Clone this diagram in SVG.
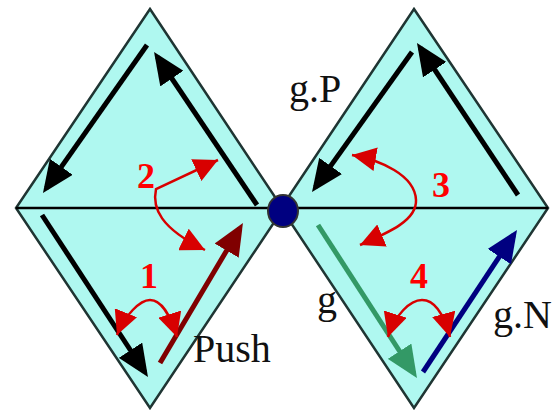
<svg xmlns="http://www.w3.org/2000/svg" width="553" height="411" viewBox="0 0 553 411">
<defs>
<style>
.dia{fill:#aff8f0;stroke:#1f3533;stroke-width:2.5;stroke-linejoin:miter}
.vec{fill:none;stroke-width:5;stroke-linecap:butt}
.turn{fill:none;stroke:#d80000;stroke-width:2.5}
.lbl{font-family:"Liberation Serif","Times New Roman",serif;font-size:40px;fill:#111}
.num{font-family:"Liberation Serif","Times New Roman",serif;font-size:36px;font-weight:bold;fill:#ff0000}
</style>
<marker id="hBlack" markerUnits="userSpaceOnUse" viewBox="0 0 32 28" markerWidth="32" markerHeight="28" refX="26" refY="14" orient="auto"><path d="M0,0 L32,14 L0,28 z" fill="#000"/></marker>
<marker id="hRed" markerUnits="userSpaceOnUse" viewBox="0 0 32 28" markerWidth="32" markerHeight="28" refX="26" refY="14" orient="auto"><path d="M0,0 L32,14 L0,28 z" fill="#800000"/></marker>
<marker id="hGreen" markerUnits="userSpaceOnUse" viewBox="0 0 32 28" markerWidth="32" markerHeight="28" refX="26" refY="14" orient="auto"><path d="M0,0 L32,14 L0,28 z" fill="#339966"/></marker>
<marker id="hNavy" markerUnits="userSpaceOnUse" viewBox="0 0 32 28" markerWidth="32" markerHeight="28" refX="26" refY="14" orient="auto"><path d="M0,0 L32,14 L0,28 z" fill="#000080"/></marker>
<marker id="hTurn" markerUnits="userSpaceOnUse" viewBox="0 0 24 24" markerWidth="24" markerHeight="24" refX="24" refY="12" orient="auto-start-reverse"><path d="M0,0 L24,12 L0,24 z" fill="#d80000"/></marker>
</defs>

<g id="diamond-left"><polygon class="dia" points="150,9 283,209 150,408 16,208"/></g>
<g id="diamond-right"><polygon class="dia" points="414,9 548,208 414,408 281,208"/></g>
<g id="axis"><line x1="16" y1="208" x2="548" y2="208" stroke="#000" stroke-width="2.5"/></g>

<g id="connectors">
<line class="vec" stroke="#000" x1="147" y1="45" x2="46.4" y2="188.1" marker-end="url(#hBlack)"/>
<line class="vec" stroke="#000" x1="257" y1="205" x2="157.4" y2="57" marker-end="url(#hBlack)"/>
<line class="vec" stroke="#000" x1="42" y1="215" x2="144.7" y2="372" marker-end="url(#hBlack)"/>
<line class="vec" stroke="#800000" x1="160" y1="363" x2="239.9" y2="228.2" marker-end="url(#hRed)"/>
<line class="vec" stroke="#000" x1="518" y1="195" x2="420.3" y2="48" marker-end="url(#hBlack)"/>
<line class="vec" stroke="#000" x1="412" y1="52" x2="315.5" y2="187.1" marker-end="url(#hBlack)"/>
<line class="vec" stroke="#339966" stroke-width="6" x1="318" y1="225" x2="413.7" y2="373" marker-end="url(#hGreen)"/>
<line class="vec" stroke="#000080" x1="423" y1="372" x2="513.7" y2="235" marker-end="url(#hNavy)"/>
<path class="turn" d="M218,160 L156,189 C152,208 160,228 205,250" marker-start="url(#hTurn)" marker-end="url(#hTurn)"/>
<path class="turn" d="M352,155 C380,160 415,175 416,200 C417,220 390,232 360,245" marker-start="url(#hTurn)" marker-end="url(#hTurn)"/>
<path class="turn" d="M117,335 C125,315 140,300 150,300 C162,300 170,315 177,337" marker-start="url(#hTurn)" marker-end="url(#hTurn)"/>
<path class="turn" d="M388,337 C395,315 410,300 422,300 C435,300 444,315 450,337" marker-start="url(#hTurn)" marker-end="url(#hTurn)"/>
</g>

<g id="joint"><ellipse cx="283" cy="211" rx="15" ry="16" fill="#000080" stroke="#333" stroke-width="2"/></g>

<g id="labels">
<text class="num" x="137" y="188">2</text>
<text class="num" x="432" y="197">3</text>
<text class="num" x="140" y="288">1</text>
<text class="num" x="410" y="288">4</text>
<text class="lbl" x="289" y="102">g.P</text>
<text class="lbl" x="193" y="362">Push</text>
<text class="lbl" x="317" y="313">g</text>
<text class="lbl" x="493" y="328">g.N</text>
</g>
</svg>
